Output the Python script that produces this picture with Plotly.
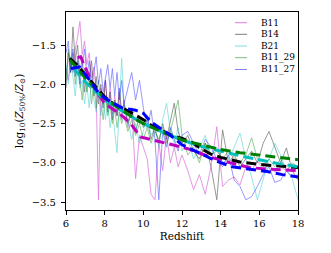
import plotly.graph_objects as go

# ---------------- data ----------------
redshift = [6.00, 6.12, 6.24, 6.36, 6.48, 6.60, 6.72, 6.84, 6.96, 7.08,
            7.20, 7.32, 7.44, 7.56, 7.68, 7.80, 7.92, 8.04, 8.16, 8.28,
            8.40, 8.52, 8.64, 8.76, 8.88, 9.0, 9.2, 9.4, 9.6, 9.8,
            10.0, 10.2, 10.4, 10.6, 10.8, 11.0, 11.2, 11.4, 11.6, 11.8,
            12.0, 12.3, 12.6, 12.9, 13.2, 13.5, 13.8, 14.1, 14.4, 14.7,
            15.0, 15.3, 15.6, 15.9, 16.2, 16.5, 16.8, 17.1, 17.4, 17.7, 18.0]

b11 = [-1.80, -1.95, -1.70, -1.85, -1.55, -1.40, -1.20, -1.62, -1.45, -1.75,
       -1.60, -1.92, -1.78, -2.10, -3.47, -2.05, -2.25, -1.95, -2.30, -2.05,
       -2.38, -2.15, -2.40, -2.10, -2.45, -2.20, -2.55, -2.30, -3.20, -2.65,
       -2.80, -2.95, -3.40, -3.47, -2.75, -3.10, -2.65, -3.00, -2.80, -3.05,
       -2.90, -3.10, -3.34, -3.15, -3.40, -3.05, -2.54, -3.30, -3.22, -3.18,
       -3.28, -3.05, -3.10, -2.98, -3.08, -3.02, -3.12, -3.05, -3.10, -3.02, -3.08]

b14 = [-2.05, -1.60, -1.85, -1.27, -1.70, -1.50, -1.90, -1.65, -2.10, -1.80,
       -1.95, -1.70, -2.15, -1.90, -2.25, -2.00, -2.30, -1.95, -2.35, -2.10,
       -2.45, -2.20, -2.40, -2.05, -2.35, -2.25, -2.50, -2.30, -2.60, -2.40,
       -2.55, -2.45, -2.70, -2.55, -2.75, -2.50, -2.70, -2.45, -2.24, -2.60,
       -2.75, -2.65, -2.85, -2.95, -2.75, -3.05, -3.47, -2.58, -3.00, -2.90,
       -3.05, -2.95, -2.85, -3.00, -2.75, -2.60, -2.80, -3.00, -2.81, -3.10, -3.22]

b21 = [-1.75, -2.00, -1.65, -1.90, -2.15, -1.80, -2.05, -1.95, -2.25, -2.00,
       -2.30, -1.95, -2.20, -2.35, -2.10, -2.40, -2.20, -2.45, -2.25, -2.55,
       -2.35, -2.60, -2.87, -2.30, -1.67, -2.25, -2.45, -2.70, -2.50, -2.75,
       -2.60, -2.40, -2.65, -2.55, -2.80, -2.45, -2.24, -2.60, -2.75, -2.55,
       -2.85, -2.70, -2.95, -2.80, -2.65, -2.90, -2.80, -3.00, -2.95, -2.80,
       -2.62, -2.95, -3.18, -3.47, -3.20, -2.95, -2.75, -2.90, -3.10, -3.20, -3.47]

b11_29 = [-1.95, -1.55, -1.80, -1.60, -2.00, -1.70, -1.95, -2.20, -1.80, -2.10,
          -1.85, -2.25, -2.00, -2.30, -1.95, -2.20, -2.45, -2.15, -2.40, -2.25,
          -2.50, -2.30, -2.55, -2.35, -2.50, -2.40, -2.60, -2.45, -2.65, -2.50,
          -2.70, -2.55, -2.75, -2.60, -2.70, -2.55, -2.75, -2.60, -2.40, -2.20,
          -2.65, -2.90, -2.80, -3.00, -2.75, -2.90, -2.85, -2.95, -2.85, -2.95,
          -3.00, -2.90, -2.68, -2.95, -3.05, -2.95, -3.05, -2.95, -3.10, -3.00, -3.05]

b11_27 = [-1.60, -1.45, -1.85, -1.55, -1.90, -1.65, -2.00, -1.75, -1.55, -1.90,
          -1.70, -2.05, -1.85, -1.65, -2.00, -1.80, -2.10, -1.90, -1.75, -2.05,
          -1.80, -2.15, -1.85, -2.20, -1.95, -2.25, -2.05, -1.85, -2.20, -1.95,
          -2.30, -2.55, -2.33, -2.70, -3.47, -2.60, -2.80, -2.55, -2.70, -2.85,
          -2.65, -2.60, -2.75, -2.90, -2.70, -2.80, -2.95, -3.05, -2.90, -3.22,
          -3.30, -3.47, -3.43, -3.30, -3.15, -3.05, -3.25, -3.22, -3.10, -3.18, -3.15]

labels = ["B11", "B14", "B21", "B11_29", "B11_27"]
series = [b11, b14, b21, b11_29, b11_27]

# fitted (dashed) curves
fit_m_z = [6.6, 6.76, 6.93, 7.2, 7.55, 8.0, 8.5, 9.0, 9.4, 9.66, 9.85, 10.35, 10.9, 11.5, 12.3, 12.9, 13.5, 14.5, 15.5, 16.4, 18.0]
fit_m_y = [-1.66, -1.65, -1.75, -1.90, -2.09, -2.24, -2.33, -2.42, -2.52, -2.60, -2.67, -2.70, -2.73, -2.77, -2.82, -2.88, -2.93, -3.00, -3.06, -3.08, -3.10]

fit_k_z = [6.2, 6.6, 7.0, 7.5, 8.0, 8.5, 9.0, 9.5, 10.0, 10.5, 11.0, 11.5, 12.0, 12.5, 13.0, 13.5, 14.0, 14.5, 15.0, 16.0, 17.0, 18.0]
fit_k_y = [-1.67, -1.76, -1.88, -2.02, -2.16, -2.26, -2.31, -2.38, -2.45, -2.54, -2.60, -2.65, -2.69, -2.74, -2.82, -2.89, -2.93, -2.96, -2.99, -3.02, -3.04, -3.06]

fit_c_z = [6.4, 7.0, 8.0, 9.0, 9.5, 10.0, 10.5, 11.0, 11.5, 12.0, 13.0, 14.0, 15.0, 16.0, 17.0, 18.0]
fit_c_y = [-1.80, -1.97, -2.20, -2.36, -2.43, -2.50, -2.56, -2.61, -2.66, -2.71, -2.79, -2.85, -2.91, -2.96, -3.01, -3.05]

fit_g_z = [6.2, 7.0, 8.0, 9.0, 9.5, 10.0, 10.5, 11.0, 11.5, 12.0, 13.0, 14.0, 15.0, 16.0, 17.0, 18.0]
fit_g_y = [-1.69, -1.92, -2.18, -2.35, -2.43, -2.50, -2.56, -2.61, -2.66, -2.71, -2.77, -2.83, -2.87, -2.90, -2.93, -2.96]

fit_b_z = [6.25, 6.7, 7.2, 7.75, 8.3, 8.9, 9.6, 10.0, 10.4, 10.9, 11.4, 12.0, 12.8, 13.45, 13.8, 14.6, 15.5, 16.4, 17.2, 18.0]
fit_b_y = [-1.80, -1.78, -1.94, -2.13, -2.22, -2.30, -2.33, -2.37, -2.48, -2.56, -2.65, -2.77, -2.86, -2.94, -2.98, -3.05, -3.08, -3.11, -3.15, -3.18]

x_ticks = [6, 8, 10, 12, 14, 16, 18]
y_ticks = [-3.5, -3.0, -2.5, -2.0, -1.5]

# ---------------- styles ----------------
raw_colors = ["#BF00BF", "#000000", "#00BFBF", "#008000", "#0000FF"]
FONT = "DejaVu Serif"

fig = go.Figure()

for lab, ys, col in zip(labels, series, raw_colors):
    fig.add_trace(go.Scatter(x=redshift, y=ys, mode="lines", name=lab,
                             line=dict(color=col, width=0.8), opacity=0.5,
                             showlegend=False))

fits = [(fit_m_z, fit_m_y, "#BF00BF"), (fit_k_z, fit_k_y, "#000000"),
        (fit_c_z, fit_c_y, "#00BFBF"), (fit_g_z, fit_g_y, "#008000"),
        (fit_b_z, fit_b_y, "#0000FF")]
for fz, fy, col in fits:
    fig.add_trace(go.Scatter(x=fz, y=fy, mode="lines", showlegend=False,
                             line=dict(color=col, width=3, dash="10px,5px")))

W, H = 331, 253
L, R, T, B = 66, 33, 12, 43
pw, ph = W - L - R, H - T - B

# manual legend (matching compact matplotlib-style spacing)
row_px = [22.7, 34.3, 46.0, 57.7, 69.5]
for lab, col, py in zip(labels, raw_colors, row_px):
    yp = (H - B - py) / ph
    fig.add_shape(type="line", xref="paper", yref="paper",
                  x0=(235 - L) / pw, x1=(247 - L) / pw, y0=yp, y1=yp,
                  line=dict(color=col, width=1), opacity=0.5)
    fig.add_annotation(xref="paper", yref="paper", x=(259 - L) / pw, y=yp,
                       text=lab, showarrow=False, xanchor="left", yanchor="middle",
                       font=dict(family=FONT, size=9, color="#000"))

axis_common = dict(showgrid=False, zeroline=False, showline=True, linecolor="#000",
                   linewidth=1, mirror=True, ticks="outside", ticklen=4, tickwidth=0.8,
                   tickcolor="#000", automargin=False,
                   tickfont=dict(family=FONT, size=10, color="#000"))

fig.update_layout(
    width=W, height=H,
    margin=dict(l=L, r=R, t=T, b=B, autoexpand=False),
    paper_bgcolor="white", plot_bgcolor="white",
    showlegend=False,
    xaxis=dict(range=[6, 18], tickvals=x_ticks, ticktext=[str(v) for v in x_ticks],
               title=dict(text="Redshift", font=dict(family=FONT, size=10.5, color="#000"), standoff=4),
               **axis_common),
    yaxis=dict(range=[-3.6, -1.08], tickvals=y_ticks,
               ticktext=["−3.5", "−3.0", "−2.5", "−2.0", "−1.5"],
               ticklabelstandoff=3,
               title=dict(text="log<sub>10</sub>(<i>Z</i><sub>50%</sub>/<i>Z</i><sub>⊙</sub>)",
                          font=dict(family=FONT, size=10.5, color="#000"), standoff=6),
               **axis_common),
)

fig.write_html("out.html", config={"displayModeBar": False},
               post_script="document.body.style.margin='0';document.body.style.padding='0';")
